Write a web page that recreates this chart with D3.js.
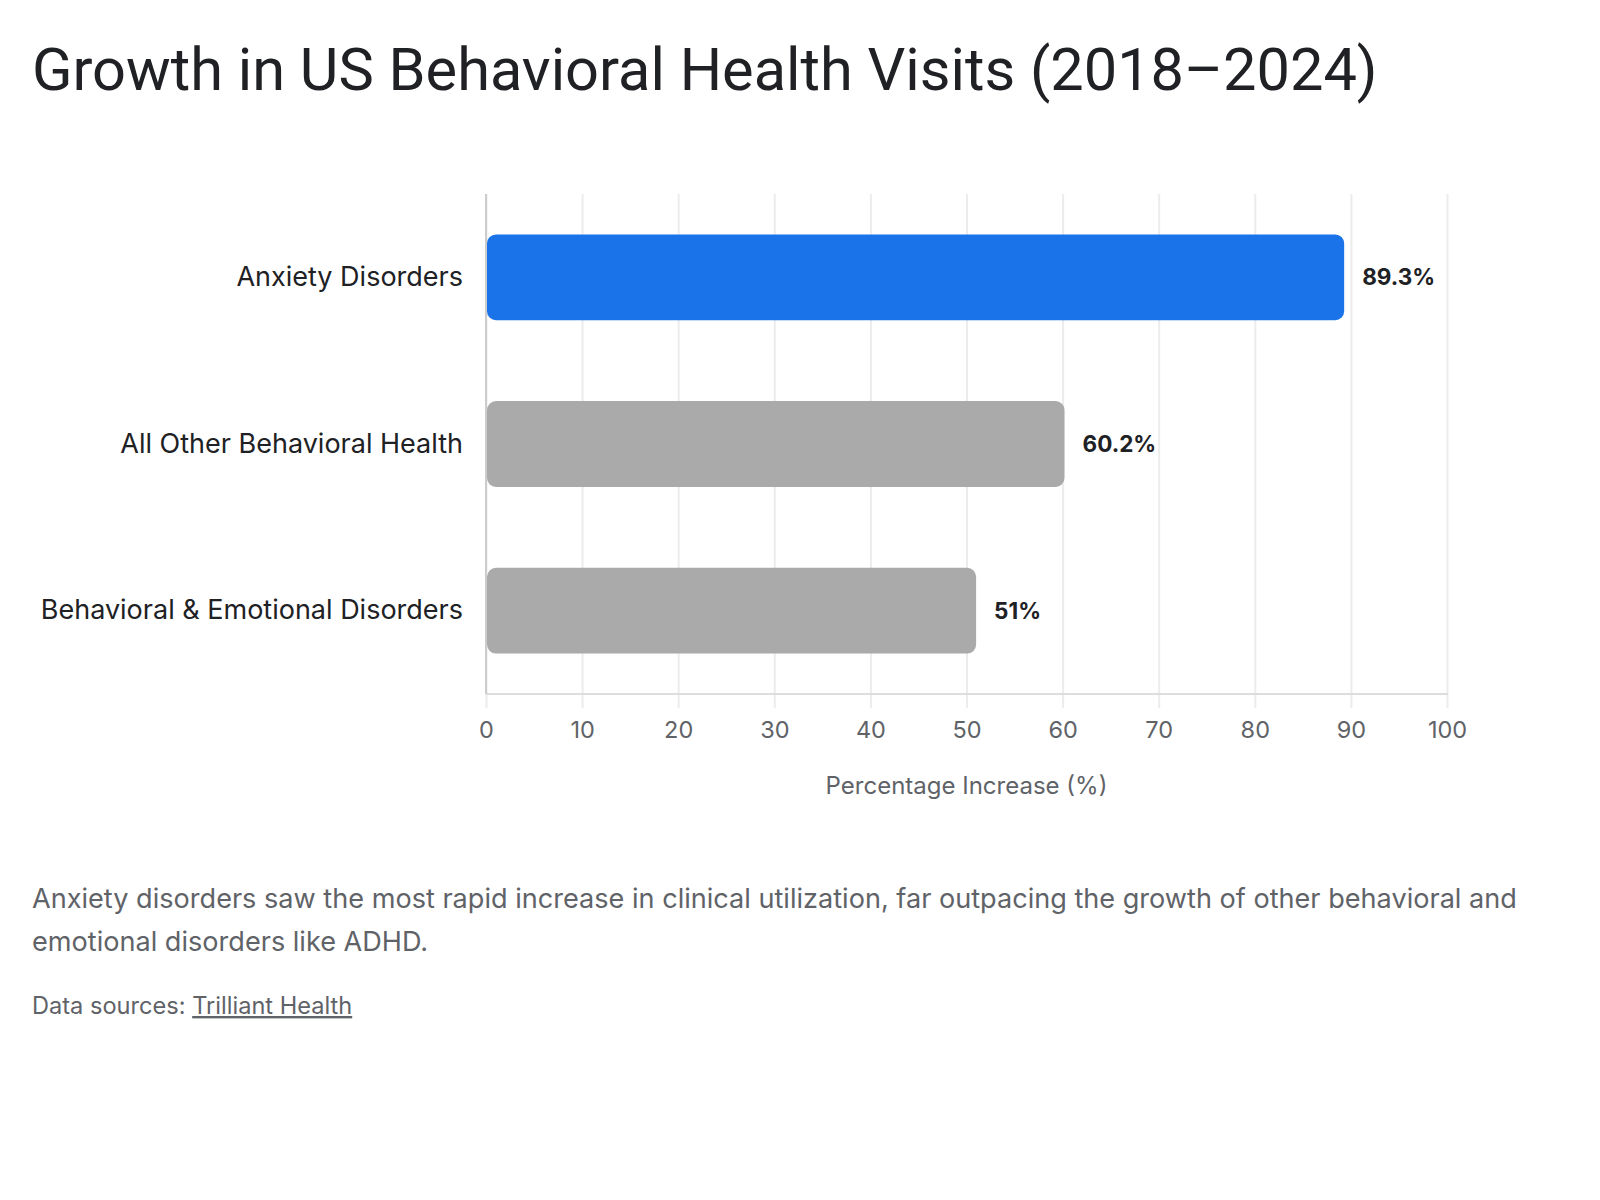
<body style="margin:0;background:#fff">
<svg id="chart"></svg>
</body>
<script src="https://d3js.org/d3.v7.min.js"></script>
<script>
// data
var categories = ["Anxiety Disorders", "All Other Behavioral Health", "Behavioral & Emotional Disorders"];
var values = [89.3, 60.2, 51];
var valueLabels = ["89.3%", "60.2%", "51%"];
var barColors = ["#1a73e8", "#aaaaaa", "#aaaaaa"];
var xTicks = [0, 10, 20, 30, 40, 50, 60, 70, 80, 90, 100];

var width = 1600, height = 1200;
var font = "Inter, Roboto, sans-serif";
var svg = d3.select("#chart").attr("width", width).attr("height", height)
  .style("font-family", font);

// title
svg.append("text")
  .attr("x", 32).attr("y", 90)
  .attr("font-size", 59.5)
  .attr("font-family", "Roboto, sans-serif")
  .attr("fill", "#202124")
  .text("Growth in US Behavioral Health Visits (2018\u20132024)");

var plot = {left: 486, right: 1447, top: 194, bottom: 694};

var x = d3.scaleLinear().domain([0, 100]).range([plot.left, plot.right]);
var y = d3.scaleBand().domain(categories).range([plot.top, plot.bottom])
  .paddingInner(0.485).paddingOuter(0.2425);

// grid + x axis
var xAxis = d3.axisBottom(x).tickValues(xTicks).tickSize(-(plot.bottom - plot.top)).tickPadding(27);
var gx = svg.append("g").attr("transform", "translate(0," + plot.bottom + ")").call(xAxis);
gx.select(".domain").remove();
gx.selectAll(".tick line").attr("stroke", "#ececec").attr("stroke-width", 2).attr("y2", 14).attr("y1", -(plot.bottom - plot.top));
gx.selectAll(".tick text").attr("font-size", 23.5).attr("fill", "#5f6368").attr("font-family", font);

// axis lines
svg.append("line").attr("x1", plot.left).attr("x2", plot.right + 1).attr("y1", plot.bottom).attr("y2", plot.bottom)
  .attr("stroke", "#dddddd").attr("stroke-width", 2);
svg.append("line").attr("x1", plot.left).attr("x2", plot.left).attr("y1", plot.top).attr("y2", plot.bottom)
  .attr("stroke", "#cccccc").attr("stroke-width", 2);

// y labels
var yAxis = d3.axisLeft(y).tickSize(0).tickPadding(23);
var gy = svg.append("g").attr("transform", "translate(" + plot.left + ",0)").call(yAxis);
gy.select(".domain").remove();
gy.selectAll(".tick text").attr("font-size", 27).attr("fill", "#202124").attr("font-family", font);

// bars
svg.selectAll(".bar").data(categories).enter().append("rect")
  .attr("x", x(0) + 1)
  .attr("y", function(d){ return y(d); })
  .attr("width", function(d, i){ return x(values[i]) - x(0) - 1; })
  .attr("height", y.bandwidth())
  .attr("rx", 9)
  .attr("fill", function(d, i){ return barColors[i]; });

// value labels
svg.selectAll(".val").data(categories).enter().append("text")
  .attr("x", function(d, i){ return x(values[i]) + 18; })
  .attr("y", function(d){ return y(d) + y.bandwidth() / 2; })
  .attr("dy", "0.35em")
  .attr("font-size", 22.5).attr("font-weight", "bold").attr("fill", "#202124")
  .text(function(d, i){ return valueLabels[i]; });

// x axis title
svg.append("text")
  .attr("x", (plot.left + plot.right) / 2).attr("y", 794)
  .attr("text-anchor", "middle").attr("font-size", 24).attr("fill", "#5f6368")
  .text("Percentage Increase (%)");

// note
var note = svg.append("text").attr("x", 32).attr("y", 908).attr("font-size", 27.1).attr("fill", "#5f6368");
note.append("tspan").attr("x", 32).text("Anxiety disorders saw the most rapid increase in clinical utilization, far outpacing the growth of other behavioral and");
note.append("tspan").attr("x", 32).attr("dy", 43).text("emotional disorders like ADHD.");

// source
var src = svg.append("text").attr("x", 32).attr("y", 1014).attr("font-size", 23.6).attr("fill", "#5f6368");
src.append("tspan").text("Data sources: ");
src.append("tspan").attr("text-decoration", "underline").text("Trilliant Health");
</script>
